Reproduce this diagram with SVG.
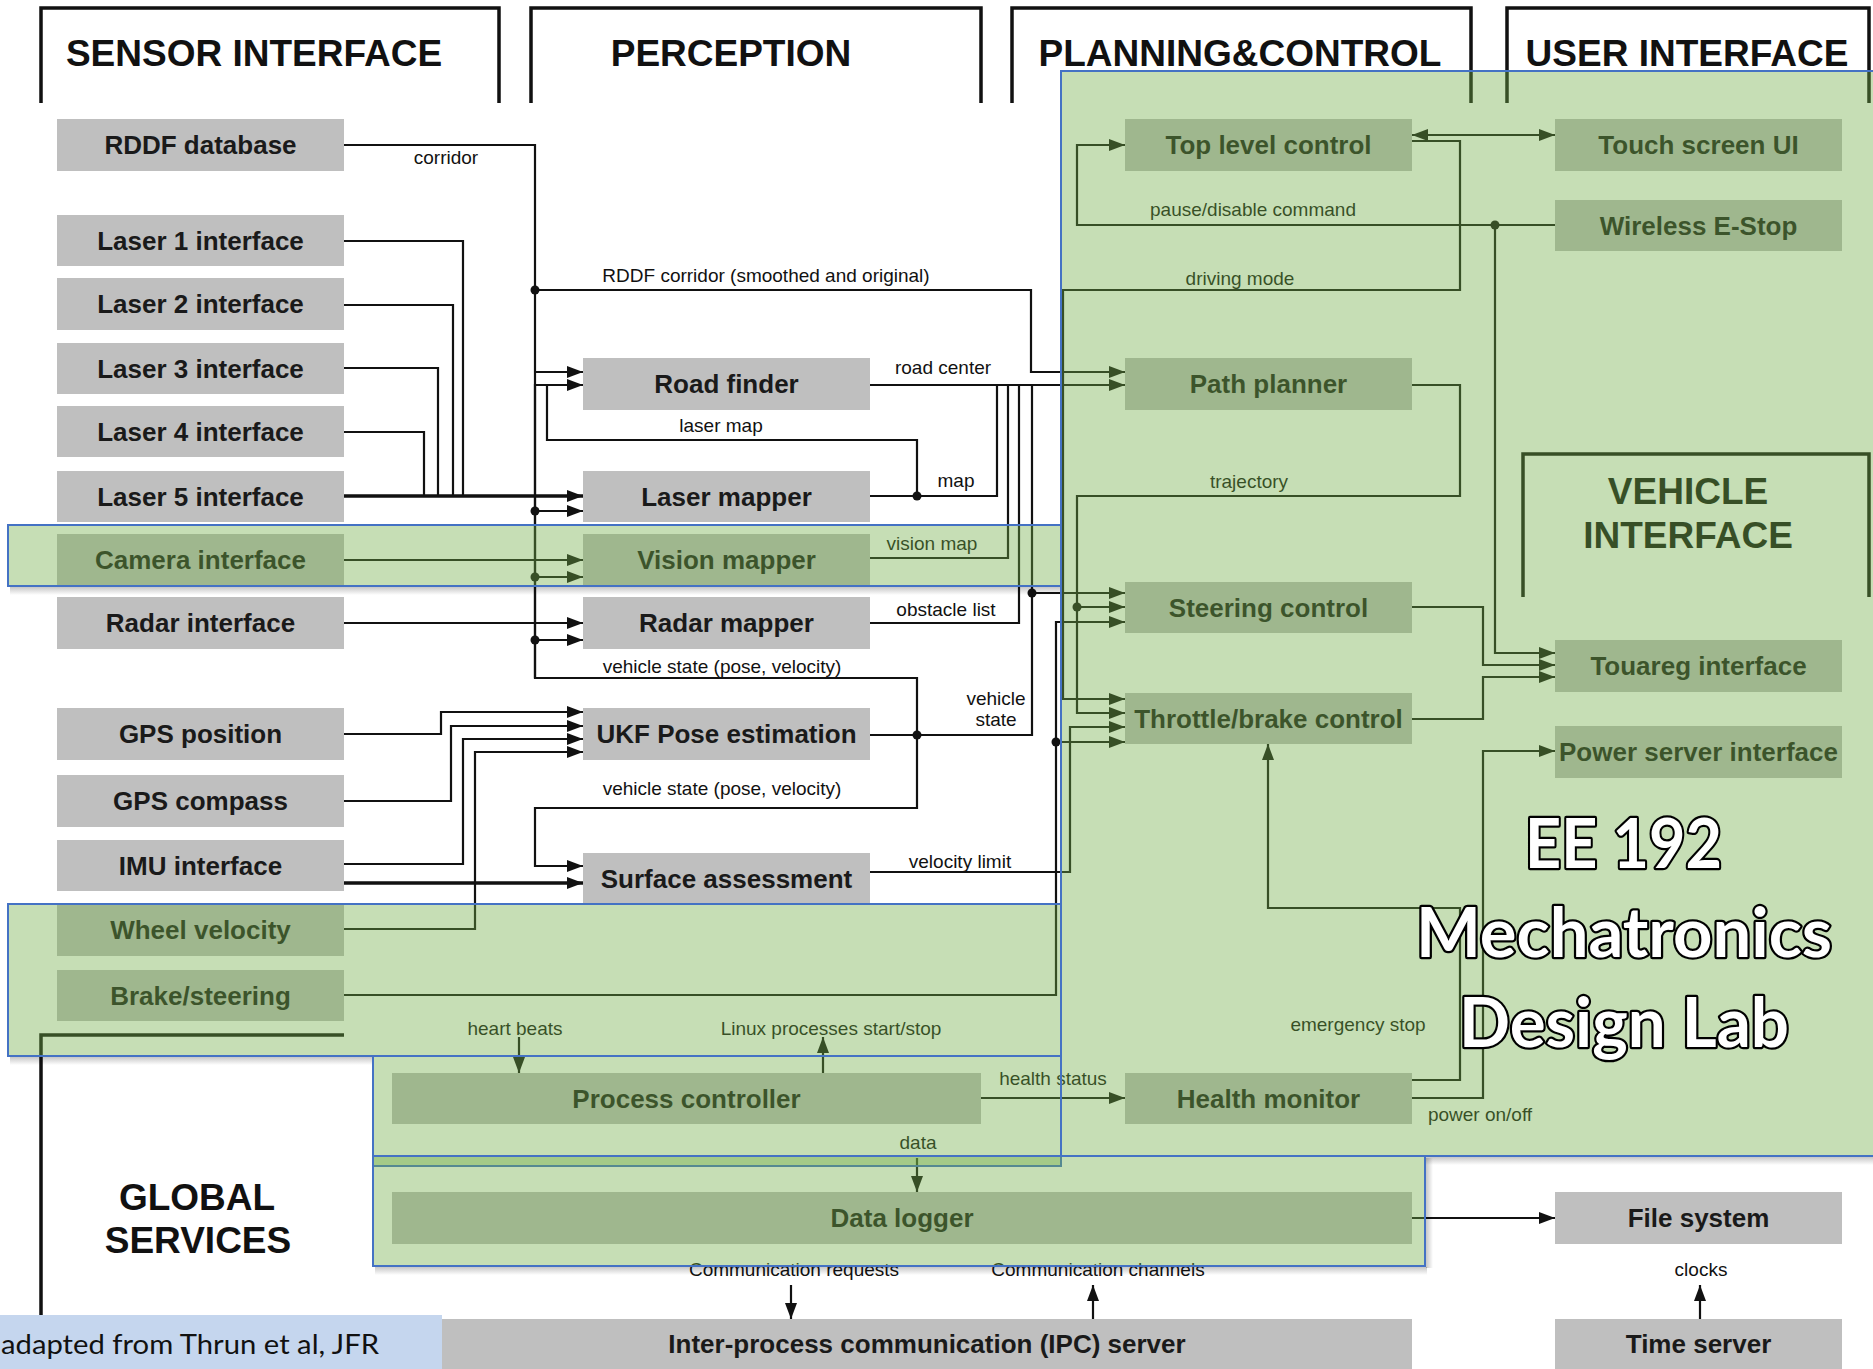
<svg xmlns="http://www.w3.org/2000/svg" width="1873" height="1369" viewBox="0 0 1873 1369">
<style>
.h{font-family:"Liberation Sans",Arial,sans-serif;font-weight:bold;font-size:37px;text-anchor:middle;fill:#111}
.t{font-family:"Liberation Sans",Arial,sans-serif;font-weight:bold;font-size:26px;text-anchor:middle;fill:#1a1a1a}
.l{font-family:"Liberation Sans",Arial,sans-serif;font-size:19px;text-anchor:middle;fill:#111}
.n{fill:#bfbfbf}
.br{fill:none;stroke:#111;stroke-width:3.5}
.c{fill:none;stroke:#111;stroke-width:2.2}
.k{stroke-width:3.6}
.a{marker-end:url(#ah)}
.d{fill:#111}
.ov{fill:#70AD47;fill-opacity:0.4;stroke:#4472C4;stroke-width:2}
.wm{font-family:Lato,"Open Sans",sans-serif;font-weight:bold;font-size:68px;fill:#fff;stroke:#000;stroke-width:4.5;paint-order:stroke;stroke-linejoin:round}
</style>
<defs>
<marker id="ah" viewBox="0 0 16 12" markerWidth="16" markerHeight="12" refX="16" refY="6" orient="auto" markerUnits="userSpaceOnUse"><path d="M0,0 L16,6 L0,12 z" fill="#111"/></marker>
<marker id="ahs" viewBox="0 0 16 12" markerWidth="16" markerHeight="12" refX="0" refY="6" orient="auto" markerUnits="userSpaceOnUse"><path d="M16,0 L0,6 L16,12 z" fill="#111"/></marker>
<linearGradient id="shv" x1="0" y1="0" x2="0" y2="1"><stop offset="0" stop-color="#000" stop-opacity="0.22"/><stop offset="1" stop-color="#000" stop-opacity="0"/></linearGradient>
<linearGradient id="shh" x1="0" y1="0" x2="1" y2="0"><stop offset="0" stop-color="#000" stop-opacity="0.22"/><stop offset="1" stop-color="#000" stop-opacity="0"/></linearGradient>
</defs>
<rect width="1873" height="1369" fill="#fff"/>

<g id="headers">
<path class="br" d="M41,103 V8 H499 V103"/>
<text class="h" x="254" y="66">SENSOR INTERFACE</text>
<path class="br" d="M531,103 V8 H981 V103"/>
<text class="h" x="731" y="66">PERCEPTION</text>
<path class="br" d="M1012,103 V8 H1471 V103"/>
<text class="h" x="1240" y="66">PLANNING&amp;CONTROL</text>
<path class="br" d="M1507,103 V8 H1869 V103"/>
<text class="h" x="1687" y="66">USER INTERFACE</text>
<path class="br" d="M1523,597 V454 H1869 V597"/>
<text class="h" x="1688" y="504">VEHICLE</text>
<text class="h" x="1688" y="548">INTERFACE</text>
<path class="br" d="M41,1369 V1035 H344"/>
<text class="h" x="197" y="1210">GLOBAL</text>
<text class="h" x="198" y="1253">SERVICES</text>
</g>

<g id="connectors">
<path class="c" d="M344,145 H535 V678"/>
<path class="c a" d="M535,372 H583"/>
<path class="c a" d="M917,735 V678 H535 V385 H583"/>
<path class="c a" d="M535,511 H583"/>
<path class="c a" d="M535,577 H583"/>
<path class="c a" d="M535,640 H583"/>
<path class="c a" d="M535,290 H1031 V372 H1125"/>
<path class="c" d="M344,241 H463 V496"/>
<path class="c" d="M344,305 H453 V496"/>
<path class="c" d="M344,368 H438 V496"/>
<path class="c" d="M344,432 H424 V496"/>
<path class="c k a" d="M344,496 H583"/>
<path class="c a" d="M344,560 H583"/>
<path class="c a" d="M344,623 H583"/>
<path class="c" d="M870,496 H997 V385"/>
<path class="c" d="M917,496 V440 H547 V385"/>
<path class="c a" d="M870,385 H1125"/>
<path class="c" d="M870,558 H1008 V385"/>
<path class="c" d="M870,623 H1019 V385"/>
<path class="c" d="M870,735 H1032 V385"/>
<path class="c a" d="M1032,593 H1125"/>
<path class="c a" d="M344,734 H441 V712 H583"/>
<path class="c a" d="M344,801 H451 V726 H583"/>
<path class="c a" d="M344,864 H463 V739 H583"/>
<path class="c a" d="M344,929 H475 V752 H583"/>
<path class="c a" d="M917,735 V808 H535 V866 H583"/>
<path class="c k a" d="M344,883 H583"/>
<path class="c a" d="M870,872 H1070 V727 H1125"/>
<path class="c a" d="M344,995 H1056 V622 H1125"/>
<path class="c a" d="M1056,742 H1125"/>
<path class="c a" d="M1412,385 H1460 V496 H1077 V713 H1125"/>
<path class="c a" d="M1077,607 H1125"/>
<path class="c a" d="M1412,141 H1460 V290 H1063 V699 H1125"/>
<path class="c a" d="M1555,225 H1077 V145 H1125"/>
<path class="c a" d="M1412,135 H1555" marker-start="url(#ahs)"/>
<path class="c a" d="M1495,225 V653 H1555"/>
<path class="c a" d="M1412,607 H1483 V665 H1555"/>
<path class="c a" d="M1412,719 H1483 V677 H1555"/>
<path class="c a" d="M1412,1098 H1483 V751 H1555"/>
<path class="c a" d="M1412,1080 H1460 V908 H1268 V744"/>
<path class="c a" d="M981,1098 H1125"/>
<path class="c a" d="M519,1037 V1073"/>
<path class="c a" d="M823,1073 V1037"/>
<path class="c a" d="M917,1158 V1192"/>
<path class="c a" d="M1412,1218 H1555"/>
<path class="c a" d="M791,1285 V1319"/>
<path class="c a" d="M1093,1319 V1285"/>
<path class="c a" d="M1700,1319 V1285"/>
<circle class="d" cx="535" cy="290" r="4.5"/>
<circle class="d" cx="535" cy="511" r="4.5"/>
<circle class="d" cx="535" cy="577" r="4.5"/>
<circle class="d" cx="535" cy="640" r="4.5"/>
<circle class="d" cx="917" cy="496" r="4.5"/>
<circle class="d" cx="917" cy="735" r="4.5"/>
<circle class="d" cx="1032" cy="593" r="4.5"/>
<circle class="d" cx="1077" cy="607" r="4.5"/>
<circle class="d" cx="1056" cy="742" r="4.5"/>
<circle class="d" cx="1495" cy="225" r="4.5"/>
<text class="l" x="446" y="164">corridor</text>
<text class="l" x="766" y="282">RDDF corridor (smoothed and original)</text>
<text class="l" x="943" y="374">road center</text>
<text class="l" x="721" y="432">laser map</text>
<text class="l" x="956" y="487">map</text>
<text class="l" x="932" y="550">vision map</text>
<text class="l" x="946" y="616">obstacle list</text>
<text class="l" x="722" y="673">vehicle state (pose, velocity)</text>
<text class="l" x="996" y="705">vehicle</text>
<text class="l" x="996" y="726">state</text>
<text class="l" x="722" y="795">vehicle state (pose, velocity)</text>
<text class="l" x="960" y="868">velocity limit</text>
<text class="l" x="1253" y="216">pause/disable command</text>
<text class="l" x="1240" y="285">driving mode</text>
<text class="l" x="1249" y="488">trajectory</text>
<text class="l" x="515" y="1035">heart beats</text>
<text class="l" x="831" y="1035">Linux processes start/stop</text>
<text class="l" x="1053" y="1085">health status</text>
<text class="l" x="1358" y="1031">emergency stop</text>
<text class="l" x="1480" y="1121">power on/off</text>
<text class="l" x="918" y="1149">data</text>
<text class="l" x="794" y="1276">Communication requests</text>
<text class="l" x="1098" y="1276">Communication channels</text>
<text class="l" x="1701" y="1276">clocks</text>
</g>

<g id="rddf"><rect class="n" x="57" y="119" width="287" height="52"/><text class="t" x="200.5" y="154">RDDF database</text></g>
<g id="laser1"><rect class="n" x="57" y="215" width="287" height="51"/><text class="t" x="200.5" y="250">Laser 1 interface</text></g>
<g id="laser2"><rect class="n" x="57" y="278" width="287" height="52"/><text class="t" x="200.5" y="313">Laser 2 interface</text></g>
<g id="laser3"><rect class="n" x="57" y="343" width="287" height="51"/><text class="t" x="200.5" y="378">Laser 3 interface</text></g>
<g id="laser4"><rect class="n" x="57" y="406" width="287" height="51"/><text class="t" x="200.5" y="441">Laser 4 interface</text></g>
<g id="laser5"><rect class="n" x="57" y="471" width="287" height="51"/><text class="t" x="200.5" y="506">Laser 5 interface</text></g>
<g id="camera"><rect class="n" x="57" y="534" width="287" height="51"/><text class="t" x="200.5" y="569">Camera interface</text></g>
<g id="radar"><rect class="n" x="57" y="597" width="287" height="52"/><text class="t" x="200.5" y="632">Radar interface</text></g>
<g id="gpspos"><rect class="n" x="57" y="708" width="287" height="52"/><text class="t" x="200.5" y="743">GPS position</text></g>
<g id="gpscomp"><rect class="n" x="57" y="775" width="287" height="52"/><text class="t" x="200.5" y="810">GPS compass</text></g>
<g id="imu"><rect class="n" x="57" y="840" width="287" height="51"/><text class="t" x="200.5" y="875">IMU interface</text></g>
<g id="wheel"><rect class="n" x="57" y="904" width="287" height="52"/><text class="t" x="200.5" y="939">Wheel velocity</text></g>
<g id="brake"><rect class="n" x="57" y="970" width="287" height="51"/><text class="t" x="200.5" y="1005">Brake/steering</text></g>
<g id="roadfinder"><rect class="n" x="583" y="358" width="287" height="52"/><text class="t" x="726.5" y="393">Road finder</text></g>
<g id="lasermapper"><rect class="n" x="583" y="471" width="287" height="51"/><text class="t" x="726.5" y="506">Laser mapper</text></g>
<g id="visionmapper"><rect class="n" x="583" y="534" width="287" height="51"/><text class="t" x="726.5" y="569">Vision mapper</text></g>
<g id="radarmapper"><rect class="n" x="583" y="597" width="287" height="52"/><text class="t" x="726.5" y="632">Radar mapper</text></g>
<g id="ukf"><rect class="n" x="583" y="708" width="287" height="52"/><text class="t" x="726.5" y="743">UKF Pose estimation</text></g>
<g id="surface"><rect class="n" x="583" y="853" width="287" height="51"/><text class="t" x="726.5" y="888">Surface assessment</text></g>
<g id="toplevel"><rect class="n" x="1125" y="119" width="287" height="52"/><text class="t" x="1268.5" y="154">Top level control</text></g>
<g id="pathplanner"><rect class="n" x="1125" y="358" width="287" height="52"/><text class="t" x="1268.5" y="393">Path planner</text></g>
<g id="steering"><rect class="n" x="1125" y="582" width="287" height="51"/><text class="t" x="1268.5" y="617">Steering control</text></g>
<g id="throttle"><rect class="n" x="1125" y="693" width="287" height="51"/><text class="t" x="1268.5" y="728">Throttle/brake control</text></g>
<g id="health"><rect class="n" x="1125" y="1073" width="287" height="51"/><text class="t" x="1268.5" y="1108">Health monitor</text></g>
<g id="touch"><rect class="n" x="1555" y="119" width="287" height="52"/><text class="t" x="1698.5" y="154">Touch screen UI</text></g>
<g id="estop"><rect class="n" x="1555" y="200" width="287" height="51"/><text class="t" x="1698.5" y="235">Wireless E-Stop</text></g>
<g id="touareg"><rect class="n" x="1555" y="640" width="287" height="52"/><text class="t" x="1698.5" y="675">Touareg interface</text></g>
<g id="power"><rect class="n" x="1555" y="726" width="287" height="52"/><text class="t" x="1698.5" y="761">Power server interface</text></g>
<g id="filesystem"><rect class="n" x="1555" y="1192" width="287" height="52"/><text class="t" x="1698.5" y="1227">File system</text></g>
<g id="timeserver"><rect class="n" x="1555" y="1319" width="287" height="50"/><text class="t" x="1698.5" y="1353">Time server</text></g>
<g id="process"><rect class="n" x="392" y="1073" width="589" height="51"/><text class="t" x="686.5" y="1108">Process controller</text></g>
<g id="datalogger"><rect class="n" x="392" y="1192" width="1020" height="52"/><text class="t" x="902" y="1227">Data logger</text></g>
<g id="ipc"><rect class="n" x="442" y="1319" width="970" height="50"/><text class="t" x="927" y="1353">Inter-process communication (IPC) server</text></g>

<g id="shadows">
<rect x="10" y="587" width="1051" height="8" fill="url(#shv)"/>
<rect x="10" y="1057" width="363" height="8" fill="url(#shv)"/>
<rect x="1425" y="1157" width="448" height="8" fill="url(#shv)"/>
<rect x="375" y="1267" width="1052" height="8" fill="url(#shv)"/>
<rect x="1426" y="1158" width="7" height="110" fill="url(#shh)"/>
</g>
<g id="overlays">
<rect class="ov" x="1061" y="71" width="830" height="1085"/>
<rect class="ov" x="8" y="525" width="1053" height="61"/>
<rect class="ov" x="8" y="904" width="1053" height="152"/>
<rect class="ov" x="373" y="1056" width="688" height="110"/>
<rect class="ov" x="373" y="1156" width="1052" height="110"/>
</g>

<g id="watermark">
<text class="wm" x="1525" y="868" textLength="197" lengthAdjust="spacingAndGlyphs">EE 192</text>
<text class="wm" x="1416" y="957" textLength="416" lengthAdjust="spacingAndGlyphs">Mechatronics</text>
<text class="wm" x="1459" y="1047" textLength="330" lengthAdjust="spacingAndGlyphs">Design Lab</text>
</g>

<g id="credit">
<rect x="0" y="1315" width="442" height="54" fill="#c5d6ee"/>
<text x="1" y="1354" font-family="Lato,'Open Sans',sans-serif" font-size="27" fill="#111" textLength="378" lengthAdjust="spacingAndGlyphs">adapted from Thrun et al, JFR</text>
</g>
</svg>
